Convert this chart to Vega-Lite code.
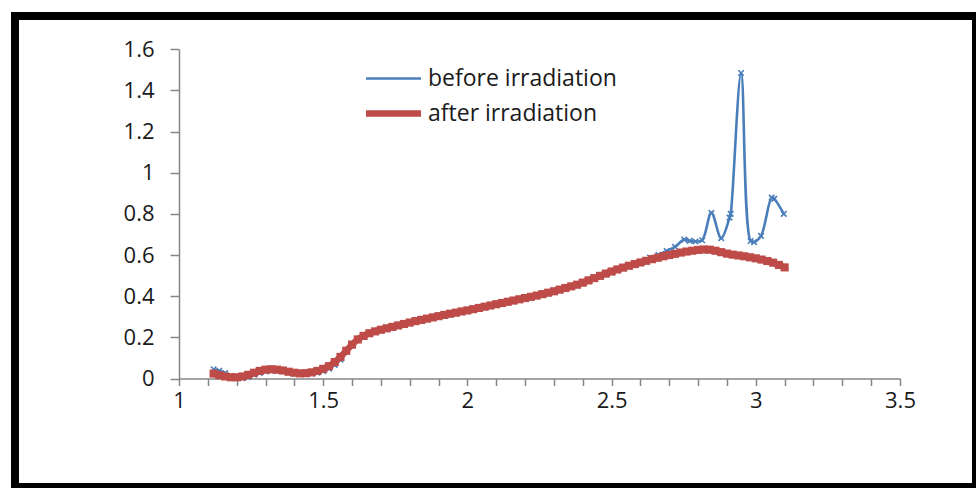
{
  "$schema": "https://vega.github.io/schema/vega-lite/v6.json",
  "width": 961,
  "height": 471,
  "autosize": "none",
  "padding": {"left": 15, "top": 16, "right": 0, "bottom": 1},
  "background": "white",
  "config": {
    "view": {"stroke": "black", "strokeWidth": 8},
    "font": "Open Sans",
    "axis": {"grid": false, "domainColor": "#868686", "tickColor": "#868686", "domainWidth": 1.5, "tickWidth": 1.5, "labelColor": "#1a1a1a", "labelFont": "Open Sans", "labelFontSize": 22, "title": null},
    "legend": {"orient": "none", "legendX": 389, "legendY": 51, "title": null, "padding": 0, "symbolType": "M-9,0H1", "symbolSize": 121, "labelFont": "Open Sans", "labelFontSize": 23, "labelColor": "#1a1a1a", "labelOffset": 1, "labelLimit": 0, "rowPadding": 9, "symbolOpacity": 1}
  },
  "data": {"values": [
    {"series":"before irradiation","x":1.12,"y":0.045},
    {"series":"before irradiation","x":1.14,"y":0.038},
    {"series":"before irradiation","x":1.16,"y":0.026},
    {"series":"before irradiation","x":1.18,"y":0.012},
    {"series":"before irradiation","x":1.20,"y":0.003},
    {"series":"before irradiation","x":1.22,"y":0.002},
    {"series":"before irradiation","x":1.24,"y":0.008},
    {"series":"before irradiation","x":1.26,"y":0.018},
    {"series":"before irradiation","x":1.28,"y":0.027},
    {"series":"before irradiation","x":1.30,"y":0.034},
    {"series":"before irradiation","x":1.32,"y":0.037},
    {"series":"before irradiation","x":1.34,"y":0.037},
    {"series":"before irradiation","x":1.36,"y":0.035},
    {"series":"before irradiation","x":1.38,"y":0.031},
    {"series":"before irradiation","x":1.40,"y":0.027},
    {"series":"before irradiation","x":1.42,"y":0.023},
    {"series":"before irradiation","x":1.44,"y":0.021},
    {"series":"before irradiation","x":1.46,"y":0.023},
    {"series":"before irradiation","x":1.48,"y":0.028},
    {"series":"before irradiation","x":1.50,"y":0.036},
    {"series":"before irradiation","x":1.52,"y":0.048},
    {"series":"before irradiation","x":1.54,"y":0.066},
    {"series":"before irradiation","x":1.56,"y":0.092},
    {"series":"before irradiation","x":1.58,"y":0.131},
    {"series":"before irradiation","x":1.60,"y":0.161},
    {"series":"before irradiation","x":1.62,"y":0.186},
    {"series":"before irradiation","x":1.64,"y":0.203},
    {"series":"before irradiation","x":1.66,"y":0.216},
    {"series":"before irradiation","x":1.68,"y":0.225},
    {"series":"before irradiation","x":1.70,"y":0.233},
    {"series":"before irradiation","x":1.72,"y":0.240},
    {"series":"before irradiation","x":1.74,"y":0.247},
    {"series":"before irradiation","x":1.76,"y":0.254},
    {"series":"before irradiation","x":1.78,"y":0.261},
    {"series":"before irradiation","x":1.80,"y":0.268},
    {"series":"before irradiation","x":1.82,"y":0.275},
    {"series":"before irradiation","x":1.84,"y":0.281},
    {"series":"before irradiation","x":1.86,"y":0.287},
    {"series":"before irradiation","x":1.88,"y":0.293},
    {"series":"before irradiation","x":1.90,"y":0.299},
    {"series":"before irradiation","x":1.92,"y":0.305},
    {"series":"before irradiation","x":1.94,"y":0.311},
    {"series":"before irradiation","x":1.96,"y":0.316},
    {"series":"before irradiation","x":1.98,"y":0.322},
    {"series":"before irradiation","x":2.00,"y":0.327},
    {"series":"before irradiation","x":2.02,"y":0.333},
    {"series":"before irradiation","x":2.04,"y":0.339},
    {"series":"before irradiation","x":2.06,"y":0.345},
    {"series":"before irradiation","x":2.08,"y":0.351},
    {"series":"before irradiation","x":2.10,"y":0.357},
    {"series":"before irradiation","x":2.12,"y":0.363},
    {"series":"before irradiation","x":2.14,"y":0.369},
    {"series":"before irradiation","x":2.16,"y":0.375},
    {"series":"before irradiation","x":2.18,"y":0.381},
    {"series":"before irradiation","x":2.20,"y":0.387},
    {"series":"before irradiation","x":2.22,"y":0.393},
    {"series":"before irradiation","x":2.24,"y":0.399},
    {"series":"before irradiation","x":2.26,"y":0.406},
    {"series":"before irradiation","x":2.28,"y":0.413},
    {"series":"before irradiation","x":2.30,"y":0.420},
    {"series":"before irradiation","x":2.32,"y":0.428},
    {"series":"before irradiation","x":2.34,"y":0.436},
    {"series":"before irradiation","x":2.36,"y":0.444},
    {"series":"before irradiation","x":2.38,"y":0.452},
    {"series":"before irradiation","x":2.40,"y":0.462},
    {"series":"before irradiation","x":2.42,"y":0.473},
    {"series":"before irradiation","x":2.44,"y":0.484},
    {"series":"before irradiation","x":2.46,"y":0.495},
    {"series":"before irradiation","x":2.48,"y":0.506},
    {"series":"before irradiation","x":2.50,"y":0.516},
    {"series":"before irradiation","x":2.52,"y":0.526},
    {"series":"before irradiation","x":2.54,"y":0.535},
    {"series":"before irradiation","x":2.56,"y":0.544},
    {"series":"before irradiation","x":2.58,"y":0.553},
    {"series":"before irradiation","x":2.60,"y":0.566},
    {"series":"before irradiation","x":2.633,"y":0.588},
    {"series":"before irradiation","x":2.662,"y":0.601},
    {"series":"before irradiation","x":2.691,"y":0.620},
    {"series":"before irradiation","x":2.72,"y":0.640},
    {"series":"before irradiation","x":2.752,"y":0.675},
    {"series":"before irradiation","x":2.771,"y":0.669},
    {"series":"before irradiation","x":2.791,"y":0.666},
    {"series":"before irradiation","x":2.814,"y":0.672},
    {"series":"before irradiation","x":2.846,"y":0.805},
    {"series":"before irradiation","x":2.88,"y":0.682},
    {"series":"before irradiation","x":2.909,"y":0.782},
    {"series":"before irradiation","x":2.913,"y":0.800},
    {"series":"before irradiation","x":2.949,"y":1.485},
    {"series":"before irradiation","x":2.982,"y":0.668},
    {"series":"before irradiation","x":2.994,"y":0.663},
    {"series":"before irradiation","x":3.018,"y":0.693},
    {"series":"before irradiation","x":3.055,"y":0.879},
    {"series":"before irradiation","x":3.064,"y":0.873},
    {"series":"before irradiation","x":3.097,"y":0.800},
    {"series":"after irradiation","x":1.12,"y":0.024},
    {"series":"after irradiation","x":1.14,"y":0.016},
    {"series":"after irradiation","x":1.16,"y":0.010},
    {"series":"after irradiation","x":1.18,"y":0.006},
    {"series":"after irradiation","x":1.20,"y":0.006},
    {"series":"after irradiation","x":1.22,"y":0.010},
    {"series":"after irradiation","x":1.24,"y":0.018},
    {"series":"after irradiation","x":1.26,"y":0.028},
    {"series":"after irradiation","x":1.28,"y":0.037},
    {"series":"after irradiation","x":1.30,"y":0.043},
    {"series":"after irradiation","x":1.32,"y":0.045},
    {"series":"after irradiation","x":1.34,"y":0.043},
    {"series":"after irradiation","x":1.36,"y":0.039},
    {"series":"after irradiation","x":1.38,"y":0.033},
    {"series":"after irradiation","x":1.40,"y":0.028},
    {"series":"after irradiation","x":1.42,"y":0.025},
    {"series":"after irradiation","x":1.44,"y":0.026},
    {"series":"after irradiation","x":1.46,"y":0.030},
    {"series":"after irradiation","x":1.48,"y":0.037},
    {"series":"after irradiation","x":1.50,"y":0.047},
    {"series":"after irradiation","x":1.52,"y":0.060},
    {"series":"after irradiation","x":1.54,"y":0.080},
    {"series":"after irradiation","x":1.56,"y":0.105},
    {"series":"after irradiation","x":1.58,"y":0.135},
    {"series":"after irradiation","x":1.60,"y":0.165},
    {"series":"after irradiation","x":1.62,"y":0.190},
    {"series":"after irradiation","x":1.64,"y":0.207},
    {"series":"after irradiation","x":1.66,"y":0.220},
    {"series":"after irradiation","x":1.68,"y":0.229},
    {"series":"after irradiation","x":1.70,"y":0.237},
    {"series":"after irradiation","x":1.72,"y":0.244},
    {"series":"after irradiation","x":1.74,"y":0.251},
    {"series":"after irradiation","x":1.76,"y":0.258},
    {"series":"after irradiation","x":1.78,"y":0.265},
    {"series":"after irradiation","x":1.80,"y":0.272},
    {"series":"after irradiation","x":1.82,"y":0.279},
    {"series":"after irradiation","x":1.84,"y":0.285},
    {"series":"after irradiation","x":1.86,"y":0.291},
    {"series":"after irradiation","x":1.88,"y":0.297},
    {"series":"after irradiation","x":1.90,"y":0.303},
    {"series":"after irradiation","x":1.92,"y":0.309},
    {"series":"after irradiation","x":1.94,"y":0.315},
    {"series":"after irradiation","x":1.96,"y":0.320},
    {"series":"after irradiation","x":1.98,"y":0.326},
    {"series":"after irradiation","x":2.00,"y":0.331},
    {"series":"after irradiation","x":2.02,"y":0.337},
    {"series":"after irradiation","x":2.04,"y":0.343},
    {"series":"after irradiation","x":2.06,"y":0.349},
    {"series":"after irradiation","x":2.08,"y":0.355},
    {"series":"after irradiation","x":2.10,"y":0.361},
    {"series":"after irradiation","x":2.12,"y":0.367},
    {"series":"after irradiation","x":2.14,"y":0.373},
    {"series":"after irradiation","x":2.16,"y":0.379},
    {"series":"after irradiation","x":2.18,"y":0.385},
    {"series":"after irradiation","x":2.20,"y":0.391},
    {"series":"after irradiation","x":2.22,"y":0.397},
    {"series":"after irradiation","x":2.24,"y":0.403},
    {"series":"after irradiation","x":2.26,"y":0.410},
    {"series":"after irradiation","x":2.28,"y":0.417},
    {"series":"after irradiation","x":2.30,"y":0.424},
    {"series":"after irradiation","x":2.32,"y":0.432},
    {"series":"after irradiation","x":2.34,"y":0.440},
    {"series":"after irradiation","x":2.36,"y":0.448},
    {"series":"after irradiation","x":2.38,"y":0.456},
    {"series":"after irradiation","x":2.40,"y":0.466},
    {"series":"after irradiation","x":2.42,"y":0.477},
    {"series":"after irradiation","x":2.44,"y":0.488},
    {"series":"after irradiation","x":2.46,"y":0.499},
    {"series":"after irradiation","x":2.48,"y":0.510},
    {"series":"after irradiation","x":2.50,"y":0.520},
    {"series":"after irradiation","x":2.52,"y":0.530},
    {"series":"after irradiation","x":2.54,"y":0.539},
    {"series":"after irradiation","x":2.56,"y":0.548},
    {"series":"after irradiation","x":2.58,"y":0.556},
    {"series":"after irradiation","x":2.60,"y":0.564},
    {"series":"after irradiation","x":2.62,"y":0.572},
    {"series":"after irradiation","x":2.64,"y":0.580},
    {"series":"after irradiation","x":2.66,"y":0.587},
    {"series":"after irradiation","x":2.68,"y":0.594},
    {"series":"after irradiation","x":2.70,"y":0.600},
    {"series":"after irradiation","x":2.72,"y":0.606},
    {"series":"after irradiation","x":2.74,"y":0.612},
    {"series":"after irradiation","x":2.76,"y":0.617},
    {"series":"after irradiation","x":2.78,"y":0.621},
    {"series":"after irradiation","x":2.80,"y":0.625},
    {"series":"after irradiation","x":2.82,"y":0.627},
    {"series":"after irradiation","x":2.84,"y":0.626},
    {"series":"after irradiation","x":2.86,"y":0.621},
    {"series":"after irradiation","x":2.88,"y":0.614},
    {"series":"after irradiation","x":2.90,"y":0.607},
    {"series":"after irradiation","x":2.92,"y":0.602},
    {"series":"after irradiation","x":2.94,"y":0.598},
    {"series":"after irradiation","x":2.96,"y":0.594},
    {"series":"after irradiation","x":2.98,"y":0.589},
    {"series":"after irradiation","x":3.00,"y":0.584},
    {"series":"after irradiation","x":3.02,"y":0.578},
    {"series":"after irradiation","x":3.04,"y":0.571},
    {"series":"after irradiation","x":3.06,"y":0.563},
    {"series":"after irradiation","x":3.08,"y":0.552},
    {"series":"after irradiation","x":3.10,"y":0.540}
  ]},
  "encoding": {
    "x": {"field": "x", "type": "quantitative",
      "scale": {"domain": [1, 3.5], "range": [164, 885], "nice": false, "zero": false},
      "axis": {"offset": -108.5, "values": [1,1.1,1.2,1.3,1.4,1.5,1.6,1.7,1.8,1.9,2,2.1,2.2,2.3,2.4,2.5,2.6,2.7,2.8,2.9,3,3.1,3.2,3.3,3.4,3.5],
        "labelExpr": "abs(datum.value*2 - round(datum.value*2)) < 0.001 ? format(datum.value, '~g') : ''",
        "tickSize": 7, "labelPadding": 5, "labelFlush": false, "labelOverlap": false}},
    "y": {"field": "y", "type": "quantitative",
      "scale": {"domain": [0, 1.6], "range": [362.5, 33.3], "nice": false, "zero": false},
      "axis": {"offset": -164, "values": [0,0.2,0.4,0.6,0.8,1,1.2,1.4,1.6], "format": "~g",
        "tickSize": 9, "labelPadding": 16, "labelFlush": false, "labelOverlap": false}}
  },
  "layer": [
    {
      "transform": [{"filter": "datum.series === 'before irradiation'"}],
      "mark": {"type": "line", "interpolate": "catmull-rom"},
      "encoding": {
        "color": {"field": "series", "type": "nominal", "sort": ["before irradiation", "after irradiation"],
          "scale": {"domain": ["before irradiation", "after irradiation"], "range": ["#4a7ebb", "#be4b48"]}},
        "strokeWidth": {"field": "series", "type": "nominal", "sort": ["before irradiation", "after irradiation"],
          "scale": {"domain": ["before irradiation", "after irradiation"], "range": [2.6, 6.5]}}
      }
    },
    {
      "transform": [{"filter": "datum.series === 'before irradiation'"}],
      "mark": {"type": "point", "shape": "M-1,-1L1,1M-1,1L1,-1", "filled": false, "size": 30, "strokeWidth": 1.6, "color": "#4a7ebb", "opacity": 1}
    },
    {
      "transform": [{"filter": "datum.series === 'after irradiation'"}],
      "mark": {"type": "line", "interpolate": "catmull-rom"},
      "encoding": {
        "color": {"field": "series", "type": "nominal", "sort": ["before irradiation", "after irradiation"]},
        "strokeWidth": {"field": "series", "type": "nominal", "sort": ["before irradiation", "after irradiation"]}
      }
    },
    {
      "transform": [{"filter": "datum.series === 'after irradiation'"}],
      "mark": {"type": "square", "size": 66, "color": "#be4b48", "opacity": 1}
    }
  ]
}
